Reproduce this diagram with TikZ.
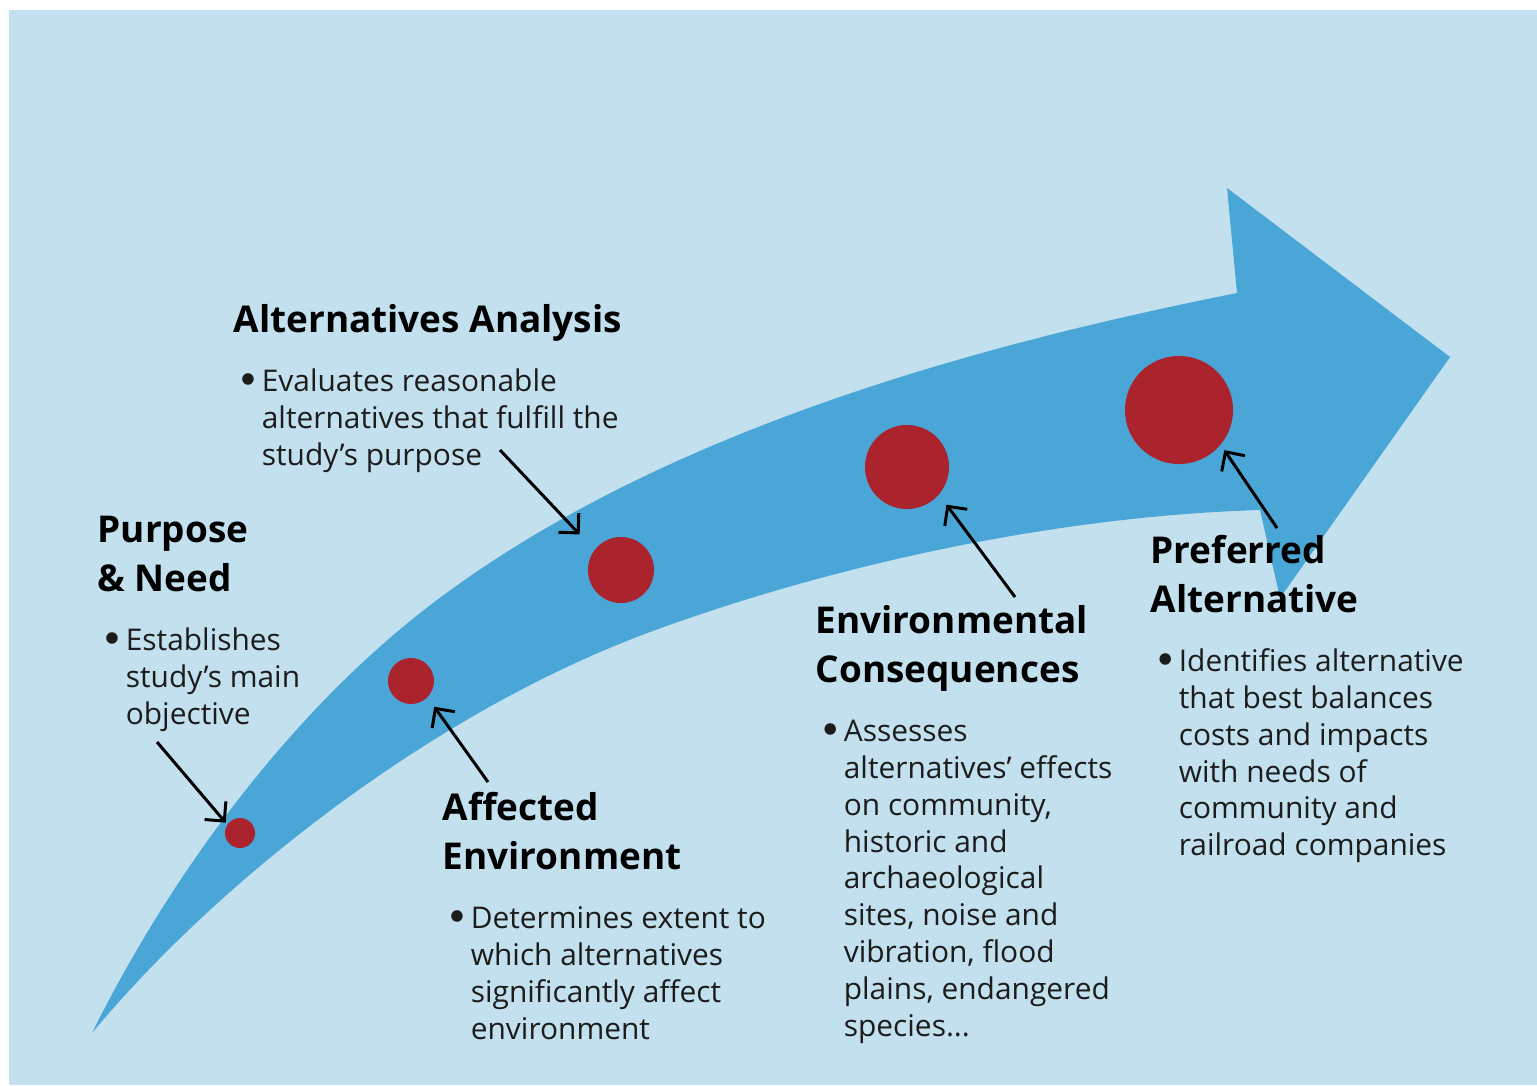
\documentclass[tikz,border=0pt]{standalone}
\usepackage{fontspec}
\setmainfont{Open Sans}
\usepackage{tikz}
\usepackage{xcolor}
\usetikzlibrary{positioning,arrows.meta}
\definecolor{bgblue}{HTML}{C3E0EE}
\definecolor{arrowblue}{HTML}{4BA6D8}
\definecolor{dotred}{HTML}{AA232D}
\definecolor{textdark}{HTML}{1C1C1C}
\newcommand{\headfont}{\fontsize{10.5}{13.9}\selectfont\bfseries}
\newcommand{\bodyfont}{\fontsize{8.5}{10.5}\selectfont}
\newcommand{\stagehead}[1]{\begin{tabular}{@{}l@{}}#1\end{tabular}}
\newcommand{\stagetext}[1]{\begin{tabular}{@{}l@{}l@{}}\makebox[6pt][l]{\raisebox{0.15em}{$\bullet$}} & #1\end{tabular}}
\tikzset{
    stage-dot/.style = {circle, fill=dotred, inner sep=0pt},
    stage-head/.style = {anchor=north west, inner sep=0pt, font=\headfont, text=black},
    stage-text/.style = {inner sep=0pt, font=\bodyfont, text=textdark},
    callout/.style = {draw=black, line width=0.85pt, -{Straight Barb[length=1.4mm, width=2.8mm]}},
}
\begin{document}
\begin{tikzpicture}[x=0.01cm, y=-0.01cm]
\useasboundingbox (0,0) rectangle (1537,1085);
\fill[white] (0,0) rectangle (1537,1085);
\fill[bgblue] (9,10) rectangle (1537,1085);

% the big curved arrow
\fill[arrowblue] (92,1033)
    .. controls (172,872) and (293,708) .. (437,600)
    .. controls (669,426) and (992,342) .. (1237,293)
    -- (1227,188) -- (1450,357) -- (1280,598) -- (1260,510)
    .. controls (1060,516) and (838,563) .. (650,632)
    .. controls (434,712) and (220,879) .. (92,1033)
    -- cycle;

% stage dots
\node[stage-dot, minimum size=3mm] (purpose-dot) at (240,833) {};
\node[stage-dot, minimum size=4.6mm] (affected-dot) at (411,681) {};
\node[stage-dot, minimum size=6.6mm] (alternatives-dot) at (621,570) {};
\node[stage-dot, minimum size=8.4mm] (consequences-dot) at (907,467) {};
\node[stage-dot, minimum size=10.8mm] (preferred-dot) at (1179,410) {};

% texts
\node[stage-head] (purpose-head) at (97,508) {\stagehead{Purpose\\ \& Need}};
\node[stage-text, below=4.7pt of purpose-head.south west, anchor=north west, xshift=2pt] (purpose-text)
    {\stagetext{Establishes\\ & study's main\\ & objective}};

\node[stage-head] (alternatives-head) at (233,298) {\stagehead{Alternatives Analysis}};
\node[stage-text, below=4.7pt of alternatives-head.south west, anchor=north west, xshift=2pt] (alternatives-text)
    {\stagetext{Evaluates reasonable\\ & alternatives that fulfill the\\ & study's purpose}};

\node[stage-head] (affected-head) at (442,786) {\stagehead{Affected\\ Environment}};
\node[stage-text, below=4.7pt of affected-head.south west, anchor=north west, xshift=2pt] (affected-text)
    {\stagetext{Determines extent to\\ & which alternatives\\ & significantly affect\\ & environment}};

\node[stage-head] (consequences-head) at (815,599) {\stagehead{Environmental\\ Consequences}};
\node[stage-text, below=4.7pt of consequences-head.south west, anchor=north west, xshift=2pt] (consequences-text)
    {\stagetext{Assesses\\ & alternatives' effects\\ & on community,\\ & historic and\\ & archaeological\\ & sites, noise and\\ & vibration, flood\\ & plains, endangered\\ & species...}};

\node[stage-head] (preferred-head) at (1150,529) {\stagehead{Preferred\\ Alternative}};
\node[stage-text, below=4.7pt of preferred-head.south west, anchor=north west, xshift=2pt] (preferred-text)
    {\stagetext{Identifies alternative\\ & that best balances\\ & costs and impacts\\ & with needs of\\ & community and\\ & railroad companies}};

% callout arrows
\coordinate (purpose-tail) at (157,742);
\coordinate (affected-tail) at (488,782);
\coordinate (alternatives-tail) at (500,450);
\coordinate (consequences-tail) at (1015,597);
\coordinate (preferred-tail) at (1277,528);
\draw[callout, shorten >=0.2mm] (purpose-tail) -- (purpose-dot.146);
\draw[callout, shorten >=1.1mm] (affected-tail) -- (affected-dot.-45);
\draw[callout, shorten >=2.1mm] (alternatives-tail) -- (alternatives-dot.143);
\draw[callout, shorten >=1.2mm] (consequences-tail) -- (consequences-dot.-41);
\draw[callout, shorten >=0.6mm] (preferred-tail) -- (preferred-dot.-40);
\end{tikzpicture}
\end{document}
